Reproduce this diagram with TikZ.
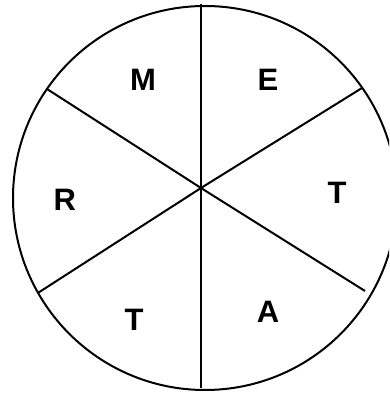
\documentclass[tikz,border=0pt]{standalone}
\usepackage{fontspec}
\setmainfont{Liberation Sans}
\begin{document}
\begin{tikzpicture}[x=1pt,y=1pt,
  rim/.style={line width=2pt},
  spoke/.style={line width=2pt},
  letter/.style={font=\fontsize{31}{31}\selectfont\bfseries, inner sep=0pt, anchor=center}]
\useasboundingbox (0,0) rectangle (389,397);
\clip (0,0) rectangle (389,397);
\fill[white] (0,0) rectangle (389,397);
% rim
\draw[rim] (205,199) circle (192);
% spoke hub and ends
\coordinate (hub) at (201,209);
\coordinate (top) at (201,393);
\coordinate (bot) at (201,9);
\coordinate (ul) at (47,308);
\coordinate (ur) at (362,309);
\coordinate (ll) at (38.3,104.3);
\coordinate (lr) at (365,106);
\draw[spoke] (top) -- (bot);
\draw[spoke] (ul) -- (hub) -- (lr);
\draw[spoke] (ll) -- (hub) -- (ur);
% letters
\node[letter] (m) at (143,317) {M};
\node[letter] (e) at (268,317) {E};
\node[letter] (t1) at (337,204) {T};
\node[letter] (a) at (268,85) {A};
\node[letter] (t2) at (134,77) {T};
\node[letter] (r) at (64.7,197) {R};
\end{tikzpicture}
\end{document}
